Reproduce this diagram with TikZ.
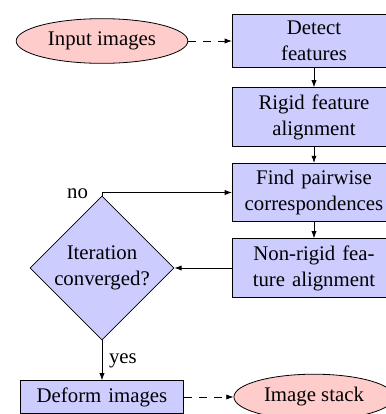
\documentclass[tikz,border=0pt]{standalone}
\usepackage{fontspec}
\setmainfont{Liberation Serif}
\usetikzlibrary{shapes.geometric,arrows.meta}

\definecolor{boxfill}{RGB}{204,204,255}
\definecolor{termfill}{RGB}{255,204,204}

\begin{document}
\begin{tikzpicture}[x=0.5pt,y=-0.5pt,
  font=\fontsize{10.4pt}{13pt}\selectfont,
  >={Latex[length=3.6pt,width=2.6pt]},
  stepbox/.style={rectangle, draw, fill=boxfill, text width=75pt, align=center, inner sep=0.3333em},
  termnode/.style={ellipse, draw, fill=termfill},
  decision/.style={diamond, draw, fill=boxfill, aspect=1, minimum width=72pt, minimum height=72pt, inner sep=0pt, align=center},
  flow/.style={draw,->},
  dataflow/.style={draw,->,dash pattern=on 4pt off 3.5pt}]
\useasboundingbox (0,0) rectangle (386,414);

% terminals
\node[termnode] (input) at (102,41) {Input images};
\node[termnode] (stack) at (314,397) {Image stack};

% processing steps
\node[stepbox] (detect)   at (314,41)  {Detect\\features};
\node[stepbox] (rigid)    at (314,117) {Rigid feature\\alignment};
\node[stepbox] (find)     at (314,192.5) {Find pairwise\\correspondences};
\node[stepbox] (nonrigid) at (314,268) {Non-rigid fea-\\ture alignment};
\node[stepbox] (deform)   at (102,397) {Deform images};

% convergence test
\node[decision] (dec) at (102,268) {Iteration\\converged?};

% connectors
\draw[dataflow] (input) -- (detect);
\draw[flow] (detect) -- (rigid);
\draw[flow] (rigid) -- (find);
\draw[flow] (find) -- (nonrigid);
\draw[flow] (nonrigid.west) -- (dec.east);
\draw[flow] (dec.north) |- (find.west);
\node[anchor=base east] (nolabel) at ([xshift=-3.5pt,yshift=-1.5pt]dec.north) {no};
\draw[flow] (dec.south) -- node[right] (yeslabel) {yes} (deform.north);
\draw[dataflow] (deform) -- (stack);
\end{tikzpicture}
\end{document}
